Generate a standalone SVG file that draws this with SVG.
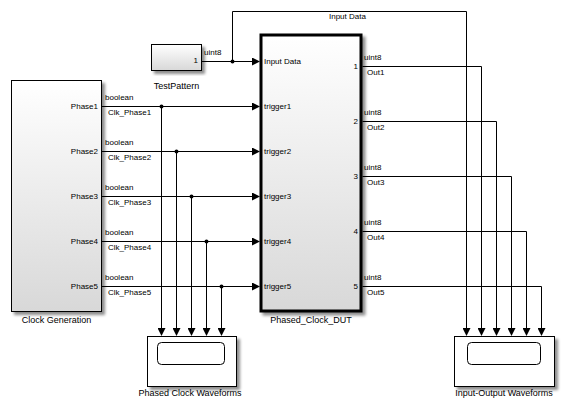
<svg xmlns="http://www.w3.org/2000/svg" width="567" height="411" viewBox="0 0 567 411">
<defs>
<linearGradient id="g" x1="0" y1="0" x2="0" y2="1">
<stop offset="0" stop-color="#ffffff"/>
<stop offset="1" stop-color="#d8d8d8"/>
</linearGradient>
<filter id="sh" x="-10%" y="-10%" width="130%" height="130%">
<feGaussianBlur in="SourceAlpha" stdDeviation="1.5"/>
<feOffset dx="2.5" dy="2.5" result="b"/>
<feComponentTransfer><feFuncA type="linear" slope="0.45"/></feComponentTransfer>
<feMerge><feMergeNode/><feMergeNode in="SourceGraphic"/></feMerge>
</filter>
<marker id="ah" markerWidth="8" markerHeight="8" refX="7" refY="4" orient="auto" markerUnits="userSpaceOnUse">
<path d="M0,0 L8,4 L0,8 Z" fill="#000"/>
</marker>
</defs>
<style>
text{font-family:"Liberation Sans",Arial,sans-serif;fill:#000}
.p{font-size:8px}
.n{font-size:9px}
.blk{stroke:#000;stroke-width:1}
.w{fill:none;stroke:#000;stroke-width:1}
.d{fill:#000}
</style>
<rect width="567" height="411" fill="#fff"/>

<g id="testpattern">
<rect x="151.5" y="44.5" width="50" height="26" fill="url(#g)" class="blk" filter="url(#sh)"/>
<text x="198" y="63" class="p" text-anchor="end">1</text>
<text x="176.5" y="89" class="n" text-anchor="middle">TestPattern</text>
</g>

<g id="clockgen">
<rect x="11.5" y="80.5" width="90" height="231" fill="url(#g)" class="blk" filter="url(#sh)"/>
<text x="98" y="108.5" class="p" text-anchor="end">Phase1</text>
<text x="98" y="153.5" class="p" text-anchor="end">Phase2</text>
<text x="98" y="198.5" class="p" text-anchor="end">Phase3</text>
<text x="98" y="243.5" class="p" text-anchor="end">Phase4</text>
<text x="98" y="288.5" class="p" text-anchor="end">Phase5</text>
<text x="56.5" y="323" class="n" text-anchor="middle">Clock Generation</text>
</g>

<g id="dut">
<rect x="261" y="35" width="100" height="276" fill="url(#g)" stroke="#000" stroke-width="3" filter="url(#sh)"/>
<text x="264" y="63.5" class="p">Input Data</text>
<text x="264" y="108.5" class="p">trigger1</text>
<text x="264" y="153.5" class="p">trigger2</text>
<text x="264" y="198.5" class="p">trigger3</text>
<text x="264" y="243.5" class="p">trigger4</text>
<text x="264" y="288.5" class="p">trigger5</text>
<text x="358" y="68.5" class="p" text-anchor="end">1</text>
<text x="358" y="123.5" class="p" text-anchor="end">2</text>
<text x="358" y="178.5" class="p" text-anchor="end">3</text>
<text x="358" y="233.5" class="p" text-anchor="end">4</text>
<text x="358" y="288.5" class="p" text-anchor="end">5</text>
<text x="311" y="323" class="n" text-anchor="middle">Phased_Clock_DUT</text>
</g>

<g id="scope1">
<rect x="147.5" y="336.5" width="89" height="50" fill="#fff" class="blk" filter="url(#sh)"/>
<rect x="157.5" y="342.5" width="67" height="22" rx="4" fill="#fff" class="blk"/>
<text x="190" y="396" class="n" text-anchor="middle">Phased Clock Waveforms</text>
</g>

<g id="scope2">
<rect x="454.5" y="336.5" width="100" height="50" fill="#fff" class="blk" filter="url(#sh)"/>
<rect x="467.5" y="342.5" width="73" height="22" rx="4" fill="#fff" class="blk"/>
<text x="504" y="396" class="n" text-anchor="middle">Input-Output Waveforms</text>
</g>

<g id="connectors">
<path class="w" d="M201.5,61.5 H259" marker-end="url(#ah)"/>
<path class="w" d="M232.5,61.5 V11.5 H466.5 V335" marker-end="url(#ah)"/>
<circle cx="232.5" cy="61.5" r="2" class="d"/>
<text x="204" y="55" class="p">uint8</text>
<text x="329" y="19" class="p">Input Data</text>

<path class="w" d="M101.5,106.5 H259" marker-end="url(#ah)"/>
<path class="w" d="M101.5,151.5 H259" marker-end="url(#ah)"/>
<path class="w" d="M101.5,196.5 H259" marker-end="url(#ah)"/>
<path class="w" d="M101.5,241.5 H259" marker-end="url(#ah)"/>
<path class="w" d="M101.5,286.5 H259" marker-end="url(#ah)"/>
<path class="w" d="M161.5,106.5 V335" marker-end="url(#ah)"/>
<path class="w" d="M176.5,151.5 V335" marker-end="url(#ah)"/>
<path class="w" d="M191.5,196.5 V335" marker-end="url(#ah)"/>
<path class="w" d="M206.5,241.5 V335" marker-end="url(#ah)"/>
<path class="w" d="M221.5,286.5 V335" marker-end="url(#ah)"/>
<circle cx="161.5" cy="106.5" r="2" class="d"/>
<circle cx="176.5" cy="151.5" r="2" class="d"/>
<circle cx="191.5" cy="196.5" r="2" class="d"/>
<circle cx="206.5" cy="241.5" r="2" class="d"/>
<circle cx="221.5" cy="286.5" r="2" class="d"/>
<text x="105" y="100" class="p">boolean</text>
<text x="108" y="115" class="p">Clk_Phase1</text>
<text x="105" y="145" class="p">boolean</text>
<text x="108" y="160" class="p">Clk_Phase2</text>
<text x="105" y="190" class="p">boolean</text>
<text x="108" y="205" class="p">Clk_Phase3</text>
<text x="105" y="235" class="p">boolean</text>
<text x="108" y="250" class="p">Clk_Phase4</text>
<text x="105" y="280" class="p">boolean</text>
<text x="108" y="295" class="p">Clk_Phase5</text>

<path class="w" d="M362.5,66.5 H481.5 V335" marker-end="url(#ah)"/>
<path class="w" d="M362.5,121.5 H496.5 V335" marker-end="url(#ah)"/>
<path class="w" d="M362.5,176.5 H511.5 V335" marker-end="url(#ah)"/>
<path class="w" d="M362.5,231.5 H526.5 V335" marker-end="url(#ah)"/>
<path class="w" d="M362.5,286.5 H541.5 V335" marker-end="url(#ah)"/>
<text x="364" y="60" class="p">uint8</text>
<text x="367" y="75" class="p">Out1</text>
<text x="364" y="115" class="p">uint8</text>
<text x="367" y="130" class="p">Out2</text>
<text x="364" y="170" class="p">uint8</text>
<text x="367" y="185" class="p">Out3</text>
<text x="364" y="225" class="p">uint8</text>
<text x="367" y="240" class="p">Out4</text>
<text x="364" y="280" class="p">uint8</text>
<text x="367" y="295" class="p">Out5</text>
</g>
</svg>
